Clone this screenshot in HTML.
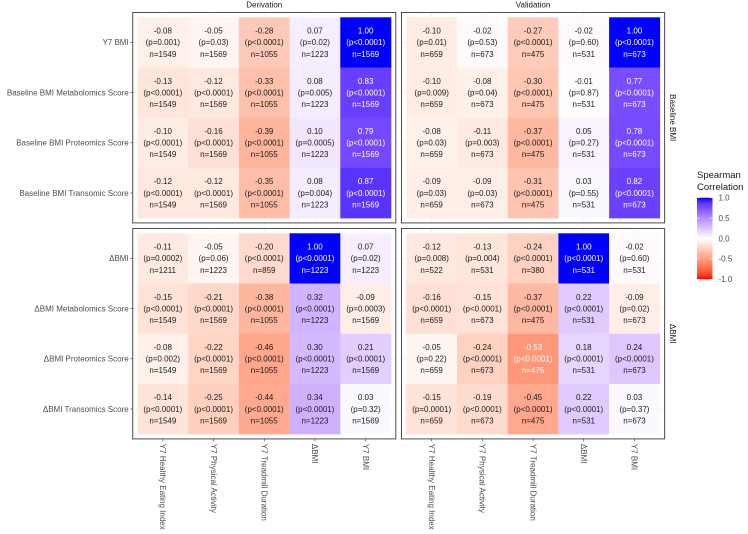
<!DOCTYPE html>
<html><head><meta charset="utf-8"><style>
body{margin:0;background:#fff;}
svg{display:block;font-family:"Liberation Sans",sans-serif;}
</style></head><body>
<svg id="chart" width="748" height="534" viewBox="0 0 748 534"></svg>
<script>
const colLabels=["Y7 Healthy Eating Index","Y7 Physical Activity","Y7 Treadmill Duration","ΔBMI","Y7 BMI"];
const rowLabelsTop=["Y7 BMI","Baseline BMI Metabolomics Score","Baseline BMI Proteomics Score","Baseline BMI Transomic Score"];
const rowLabelsBottom=["ΔBMI","ΔBMI Metabolomics Score","ΔBMI Proteomics Score","ΔBMI Transomics Score"];
const panelCols=["Derivation","Validation"];
const panelRows=["Baseline BMI","ΔBMI"];
// r values [panelRow][panelCol][row][col]
const rDerTop=[[-0.08,-0.05,-0.28,0.07,1.00],[-0.13,-0.12,-0.33,0.08,0.83],[-0.10,-0.16,-0.39,0.10,0.79],[-0.12,-0.12,-0.35,0.08,0.87]];
const pDerTop=[["p=0.001","p=0.03","p<0.0001","p=0.02","p<0.0001"],["p<0.0001","p<0.0001","p<0.0001","p=0.005","p<0.0001"],["p<0.0001","p<0.0001","p<0.0001","p=0.0005","p<0.0001"],["p<0.0001","p<0.0001","p<0.0001","p=0.004","p<0.0001"]];
const nDerTop=[[1549,1569,1055,1223,1569],[1549,1569,1055,1223,1569],[1549,1569,1055,1223,1569],[1549,1569,1055,1223,1569]];
const rValTop=[[-0.10,-0.02,-0.27,-0.02,1.00],[-0.10,-0.08,-0.30,-0.01,0.77],[-0.08,-0.11,-0.37,0.05,0.78],[-0.09,-0.09,-0.31,0.03,0.82]];
const pValTop=[["p=0.01","p=0.53","p<0.0001","p=0.60","p<0.0001"],["p=0.009","p=0.04","p<0.0001","p=0.87","p<0.0001"],["p=0.03","p=0.003","p<0.0001","p=0.27","p<0.0001"],["p=0.03","p=0.03","p<0.0001","p=0.55","p<0.0001"]];
const nValTop=[[659,673,475,531,673],[659,673,475,531,673],[659,673,475,531,673],[659,673,475,531,673]];
const rDerBot=[[-0.11,-0.05,-0.20,1.00,0.07],[-0.15,-0.21,-0.38,0.32,-0.09],[-0.08,-0.22,-0.46,0.30,0.21],[-0.14,-0.25,-0.44,0.34,0.03]];
const pDerBot=[["p=0.0002","p=0.06","p<0.0001","p<0.0001","p=0.02"],["p<0.0001","p<0.0001","p<0.0001","p<0.0001","p=0.0003"],["p=0.002","p<0.0001","p<0.0001","p<0.0001","p<0.0001"],["p<0.0001","p<0.0001","p<0.0001","p<0.0001","p=0.32"]];
const nDerBot=[[1211,1223,859,1223,1223],[1549,1569,1055,1223,1569],[1549,1569,1055,1223,1569],[1549,1569,1055,1223,1569]];
const rValBot=[[-0.12,-0.13,-0.24,1.00,-0.02],[-0.16,-0.15,-0.37,0.22,-0.09],[-0.05,-0.24,-0.53,0.18,0.24],[-0.15,-0.19,-0.45,0.22,0.03]];
const pValBot=[["p=0.008","p=0.004","p<0.0001","p<0.0001","p=0.60"],["p<0.0001","p<0.0001","p<0.0001","p<0.0001","p=0.02"],["p=0.22","p<0.0001","p<0.0001","p<0.0001","p<0.0001"],["p=0.0001","p<0.0001","p<0.0001","p<0.0001","p=0.37"]];
const nValBot=[[522,531,380,531,531],[659,673,475,531,673],[659,673,475,531,673],[659,673,475,531,673]];
const legendTicks=[1.0,0.5,0.0,-0.5,-1.0];

const NS="http://www.w3.org/2000/svg";
const svg=document.getElementById("chart");
function el(tag,attrs,parent){const e=document.createElementNS(NS,tag);for(const k in attrs)e.setAttribute(k,attrs[k]);(parent||svg).appendChild(e);return e;}

// Lab color interpolation
function s2l(c){c/=255;return c<=0.04045?c/12.92:Math.pow((c+0.055)/1.055,2.4);}
function l2s(c){c=c<=0.0031308?12.92*c:1.055*Math.pow(c,1/2.4)-0.055;return Math.round(Math.max(0,Math.min(1,c))*255);}
const Xn=0.95047,Yn=1,Zn=1.08883;
function f(t){return t>0.008856?Math.cbrt(t):7.787*t+16/116;}
function fi(t){return t>0.206893?t*t*t:(t-16/116)/7.787;}
function toLab(rgb){const r=s2l(rgb[0]),g=s2l(rgb[1]),b=s2l(rgb[2]);
const X=0.4124*r+0.3576*g+0.1805*b,Y=0.2126*r+0.7152*g+0.0722*b,Z=0.0193*r+0.1192*g+0.9505*b;
const fx=f(X/Xn),fy=f(Y/Yn),fz=f(Z/Zn);return [116*fy-16,500*(fx-fy),200*(fy-fz)];}
function fromLab(l){const fy=(l[0]+16)/116,fx=fy+l[1]/500,fz=fy-l[2]/200;
const X=fi(fx)*Xn,Y=fi(fy)*Yn,Z=fi(fz)*Zn;
const r=3.2406*X-1.5372*Y-0.4986*Z,g=-0.9689*X+1.8758*Y+0.0415*Z,b=0.0557*X-0.2040*Y+1.0570*Z;
return "rgb("+l2s(r)+","+l2s(g)+","+l2s(b)+")";}
const LR=toLab([255,0,0]),LW=toLab([255,255,255]),LB=toLab([0,0,255]);
function color(v){const a=v<0?LR:LB,t=Math.min(1,Math.abs(v));return fromLab([0,1,2].map(i=>LW[i]+(a[i]-LW[i])*t));}

// Layout
const panelX=[137.5,406.3], panelY=[17.3,233.3], cw=50.7, rh=50.2, pad=4.8;
const fs=8;
function xScale(pc,c){return panelX[pc]+c*cw;}
function yScale(pr,r){return panelY[pr]+r*rh;}

const data=[[[rDerTop,pDerTop,nDerTop],[rValTop,pValTop,nValTop]],[[rDerBot,pDerBot,nDerBot],[rValBot,pValBot,nValBot]]];
const rowLabelSets=[rowLabelsTop,rowLabelsBottom];

for(let pr=0;pr<2;pr++){for(let pc=0;pc<2;pc++){
  const g=el("g",{});
  
  
  const x0=xScale(pc,0)-pad,y0=yScale(pr,0)-pad,w=5*cw+2*pad,h=4*rh+2*pad;
  for(let c=0;c<5;c++){const x=xScale(pc,c)+cw/2;el("line",{x1:x,x2:x,y1:y0,y2:y0+h,stroke:"#ebebeb","stroke-width":0.6},g);}
  for(let r=0;r<4;r++){const y=yScale(pr,r)+rh/2;el("line",{x1:x0,x2:x0+w,y1:y,y2:y,stroke:"#ebebeb","stroke-width":0.6},g);}
  const [R,P,N]=data[pr][pc];
  for(let r=0;r<4;r++)for(let c=0;c<5;c++){
    const v=R[r][c];const x=xScale(pc,c),y=yScale(pr,r);
    const rect=el("rect",{x:x,y:y,width:cw+0.3,height:rh+0.3,fill:color(v)},g);
    
    
    const tc=Math.abs(v)>0.5?"#ffffff":"#1a1a1a";
    const lines=[v.toFixed(2),"("+P[r][c]+")","n="+N[r][c]];
    lines.forEach((s,i)=>{const t=el("text",{x:x+cw/2,y:y+rh/2+(i-1)*11.6+2.8,"font-size":fs,"text-anchor":"middle",fill:tc},g);t.textContent=s;
      
      });
  }
  el("rect",{x:x0,y:y0,width:w,height:h,fill:"none",stroke:"#4d4d4d","stroke-width":1},g);
  // ticks
  if(pc===0){for(let r=0;r<4;r++){const y=yScale(pr,r)+rh/2;el("line",{x1:x0-2.5,x2:x0,y1:y,y2:y,stroke:"#333","stroke-width":0.6},g);
    const t=el("text",{x:x0-4,y:y+2.8,"font-size":fs,"text-anchor":"end",fill:"#4d4d4d"},g);t.textContent=rowLabelSets[pr][r];
    
    }}
  if(pr===1){for(let c=0;c<5;c++){const x=xScale(pc,c)+cw/2;el("line",{x1:x,x2:x,y1:y0+h,y2:y0+h+2.5,stroke:"#333","stroke-width":0.6},g);
    const t=el("text",{x:0,y:0,"font-size":fs,fill:"#4d4d4d",transform:"translate("+(x-2.8)+","+(y0+h+5)+") rotate(90)"},g);t.textContent=colLabels[c];
    
    }}
  if(pr===0){const t=el("text",{x:x0+w/2,y:7.5,"font-size":fs,"text-anchor":"middle",fill:"#1a1a1a"},g);t.textContent=panelCols[pc];
    
    }
  if(pc===1){const cy=y0+h/2;const t=el("text",{x:0,y:0,"font-size":fs,"text-anchor":"middle",fill:"#1a1a1a",transform:"translate(670,"+cy+") rotate(90)"},g);t.textContent=panelRows[pr];
    
    }
}}

// Legend
const lg=el("g",{});


const lt1=el("text",{x:697,y:178,"font-size":9.5,fill:"#1a1a1a"},lg);lt1.textContent="Spearman";
const lt2=el("text",{x:697,y:190,"font-size":9.5,fill:"#1a1a1a"},lg);lt2.textContent="Correlation";
const defs=el("defs",{});
const grad=el("linearGradient",{id:"lgd",x1:0,y1:0,x2:0,y2:1},defs);
for(let i=0;i<=20;i++){const v=1-i/10;el("stop",{offset:(i/20),"stop-color":color(v)},grad);}
const by0=197.7,by1=279.3,bx=697,bw=15.5;
const bar=el("rect",{x:bx,y:by0,width:bw,height:by1-by0,fill:"url(#lgd)"},lg);


legendTicks.forEach(v=>{const y=by0+(1-v)/2*(by1-by0);
  el("line",{x1:bx,x2:bx+3,y1:y,y2:y,stroke:"#fff","stroke-width":0.6},lg);
  el("line",{x1:bx+bw-3,x2:bx+bw,y1:y,y2:y,stroke:"#fff","stroke-width":0.6},lg);
  const t=el("text",{x:bx+bw+6,y:y+2.8,"font-size":fs,fill:"#4d4d4d"},lg);t.textContent=v.toFixed(1);
  
  });
</script>
</body></html>
